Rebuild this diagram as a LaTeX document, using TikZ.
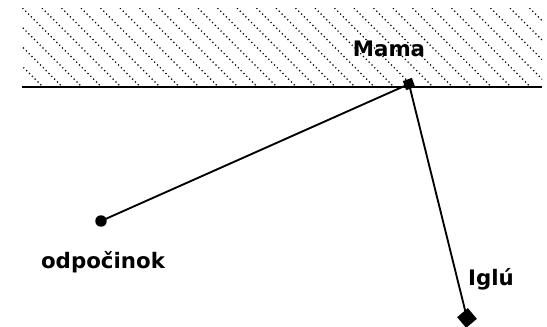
\documentclass[tikz,border=0pt]{standalone}
\usepackage{fontspec}
\setmainfont{DejaVu Sans}

\tikzset{
  hatch/.style={line width=1pt,dash pattern=on 0.9pt off 2.1pt},
  lbl/.style={font=\fontsize{16}{19}\selectfont\bfseries},
  conn/.style={line width=1.4pt},
  mamabox/.style={rectangle,fill,minimum size=7.2pt,inner sep=0pt,rotate=20},
  restdot/.style={circle,fill,minimum size=8.6pt,inner sep=0pt},
  iglubox/.style={rectangle,fill,minimum size=10.5pt,inner sep=0pt,rotate=40}
}

\begin{document}
\begin{tikzpicture}[x=0.75pt,y=-0.75pt]
  \useasboundingbox (0,0) rectangle (547,326);
  % hatched ground
  \begin{scope}
    \clip (22,8) rectangle (542,86);
    \foreach \s in {-75,-55.5,...,545} \draw[hatch] (\s,8) -- ++(80,80);
  \end{scope}
  \draw[line width=1.5pt] (22,86.5) -- (542,86.5);
  % points
  \node[restdot] (rest) at (101,221) {};
  \node[iglubox] (iglu) at (467,318) {};
  \draw[conn] (409,84) coordinate (m) -- (rest.center);
  \draw[conn] (m) -- (iglu.center);
  \node[mamabox] (mama) at (m) {};
  % labels
  \node[lbl] (mamalbl) at (389,49) {Mama};
  \node[lbl] (restlbl) at (103,262) {odpočinok};
  \node[lbl] (iglulbl) at (491,279) {Iglú};
\end{tikzpicture}
\end{document}
